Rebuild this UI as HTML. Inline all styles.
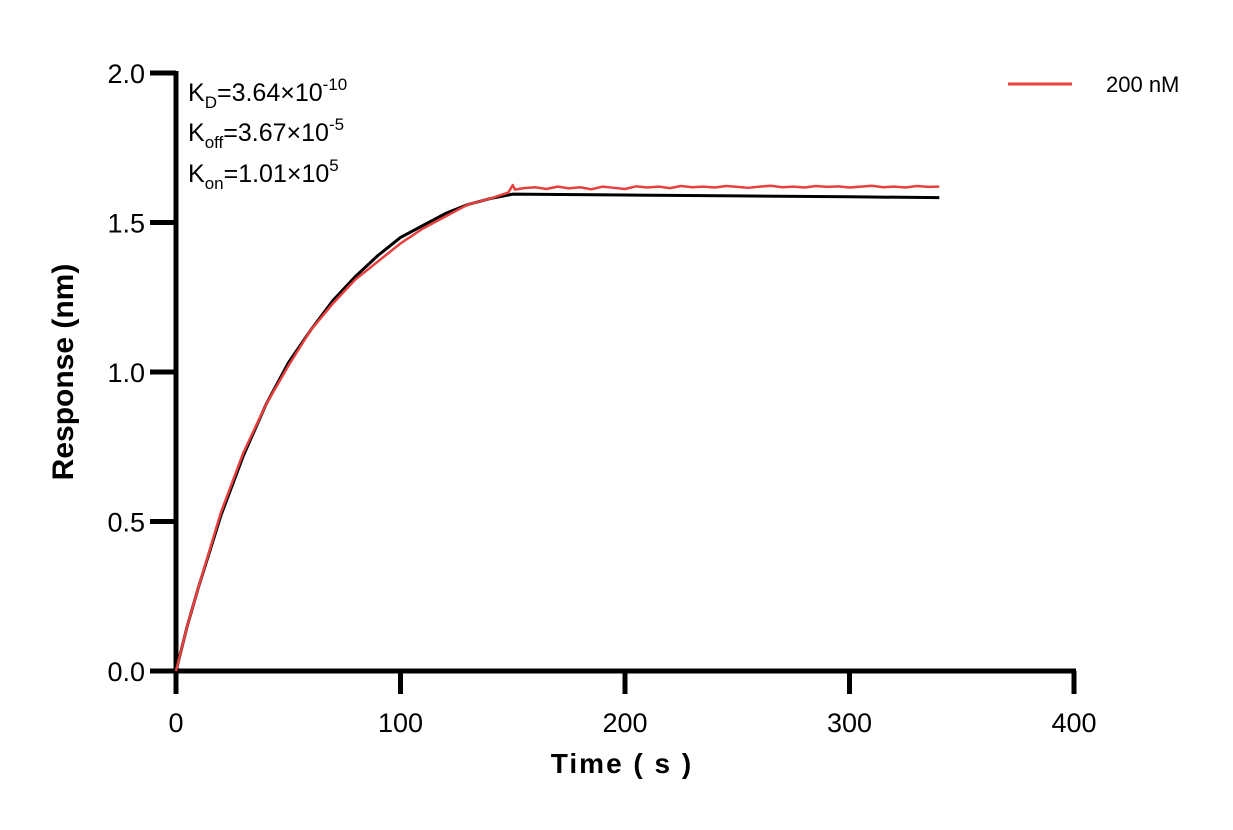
<!DOCTYPE html>
<html><head><meta charset="utf-8"><style>
body{margin:0;background:#fff;}
svg text{font-family:"Liberation Sans",Arial,sans-serif;}
</style></head><body>
<svg width="1233" height="825" viewBox="0 0 1233 825">
<g id="axes"></g>
<g id="series"></g>
<g font-size="25" fill="#000">
<text x="188" y="101">K<tspan font-size="17" dy="7">D</tspan><tspan dy="-7">=3.64×10</tspan><tspan font-size="17" dy="-11">-10</tspan></text>
<text x="188" y="141">K<tspan font-size="17" dy="7">off</tspan><tspan dy="-7">=3.67×10</tspan><tspan font-size="17" dy="-11">-5</tspan></text>
<text x="188" y="182">K<tspan font-size="17" dy="7">on</tspan><tspan dy="-7">=1.01×10</tspan><tspan font-size="17" dy="-11">5</tspan></text>
</g>
<g>
<line x1="1008" y1="84" x2="1072" y2="84" stroke="#e8403f" stroke-width="3"/>
<text x="1106" y="92" font-size="22">200 nM</text>
</g>
<text x="622" y="773" font-size="28" font-weight="bold" text-anchor="middle" letter-spacing="2">Time ( s )</text>
<text transform="translate(73,372) rotate(-90)" font-size="30" font-weight="bold" text-anchor="middle">Response (nm)</text>
</svg>
<script>
const xTicks=[0,100,200,300,400];
const yTicks=[0,0.5,1.0,1.5,2.0];
const yTickLabels=["0.0","0.5","1.0","1.5","2.0"];
const fitTimes=[0,5,10,20,30,40,50,60,70,80,90,100,110,120,130,140,150,200,250,300,340];
const fitValues=[0,0.15,0.28,0.52,0.72,0.89,1.03,1.14,1.24,1.32,1.39,1.45,1.49,1.53,1.56,1.58,1.595,1.592,1.589,1.586,1.583];
const dataTimes=[0,5,10,20,30,40,50,60,70,80,90,100,110,120,130,140,148,150,151,155,160,165,170,175,180,185,190,195,200,205,210,215,220,225,230,235,240,245,250,255,260,265,270,275,280,285,290,295,300,305,310,315,320,325,330,335,340];
const dataValues=[0,0.15,0.28,0.53,0.73,0.89,1.02,1.14,1.23,1.31,1.37,1.43,1.48,1.52,1.56,1.58,1.60,1.625,1.61,1.615,1.618,1.612,1.62,1.614,1.618,1.611,1.62,1.616,1.612,1.621,1.617,1.62,1.615,1.622,1.618,1.62,1.617,1.622,1.619,1.616,1.62,1.623,1.618,1.62,1.617,1.622,1.619,1.621,1.617,1.62,1.623,1.618,1.62,1.617,1.622,1.619,1.62];
const X=t=>176+t*2.245;
const Y=v=>671-v*299;
const ns="http://www.w3.org/2000/svg";
const axes=document.getElementById('axes');
function mk(tag,attrs,parent){const e=document.createElementNS(ns,tag);for(const k in attrs)e.setAttribute(k,attrs[k]);parent.appendChild(e);return e;}
const xa=mk('line',{x1:X(0)-3,y1:671,x2:X(400)+2,y2:671,stroke:'#000','stroke-width':5},axes);


const ya=mk('line',{x1:176,y1:Y(2)-2,x2:176,y2:673,stroke:'#000','stroke-width':5},axes);


xTicks.forEach(t=>{
 mk('line',{x1:X(t),y1:671,x2:X(t),y2:694,stroke:'#000','stroke-width':5},axes);
 const tx=mk('text',{x:X(t),y:732,'font-size':27,'text-anchor':'middle'},axes);
 tx.textContent=t;
 
 
});
yTicks.forEach((v,i)=>{
 mk('line',{x1:150,y1:Y(v),x2:176,y2:Y(v),stroke:'#000','stroke-width':5},axes);
 const tx=mk('text',{x:145,y:Y(v)+10,'font-size':27,'text-anchor':'end'},axes);
 tx.textContent=yTickLabels[i];
 
 
});
const sg=document.getElementById('series');
const pf=mk('polyline',{points:fitTimes.map((t,i)=>X(t)+','+Y(fitValues[i])).join(' '),fill:'none',stroke:'#000','stroke-width':3,'stroke-linejoin':'round'},sg);


const pr=mk('polyline',{points:dataTimes.map((t,i)=>X(t)+','+Y(dataValues[i])).join(' '),fill:'none',stroke:'#e8403f','stroke-width':2.5,'stroke-linejoin':'round'},sg);


</script>
</body></html>
